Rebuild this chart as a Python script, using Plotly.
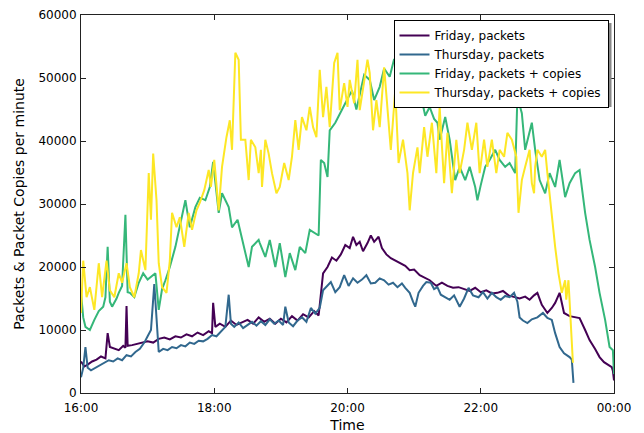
import pandas as pd
import plotly.graph_objects as go

# minutes after 16:00 and values (packets per minute)
fri_pk_min = [0, 3, 6, 10, 14, 18, 22, 24, 26, 30, 34, 38, 40, 41, 42, 46, 50, 55, 60, 65, 70, 75, 80, 85, 90,
              95, 100, 105, 110, 115, 118, 119, 121, 125, 130, 135, 140, 145, 150, 155, 160, 165, 170, 175, 180,
              185, 190, 195, 200, 205, 210, 214, 216, 218, 222, 226, 230, 234, 238, 242, 245, 248, 251, 254, 258,
              261, 264, 268, 271, 275, 279, 283, 287, 292, 296, 300, 305, 310, 314, 320, 325, 330, 335, 340, 345,
              350, 355, 360, 365, 370, 375, 380, 385, 390, 395, 400, 404, 408, 411, 415, 420, 424, 427, 431, 435,
              440, 445, 449, 454, 458, 463, 467, 471, 475, 478, 479, 480]
fri_pk_val = [5000, 4200, 4500, 5000, 5300, 5800, 5500, 9500, 7300, 7000, 6800, 7500, 7200, 13800, 7500, 7600,
              7800, 8000, 8200, 8000, 8600, 8800, 8500, 9000, 8800, 9300, 9000, 9600, 9200, 9800, 9500, 14300,
              10500, 11000, 10500, 11500, 10800, 11200, 11600, 11000, 12000, 11300, 11800, 11000, 11800, 11200,
              12200, 11500, 12500, 12000, 13000, 12300, 15500, 19000, 20000, 21500, 21000, 22000, 23500, 23000,
              24800, 23500, 24000, 22500, 23800, 25000, 24000, 24800, 23000, 22000, 21400, 21000, 20600, 20200,
              19500, 19600, 18700, 18300, 17900, 17000, 17500, 17000, 16700, 16800, 16500, 16200, 16700, 16000,
              16300, 15800, 15900, 16200, 15500, 15200, 15000, 15300, 14800, 15500, 15900, 14000, 12700, 13500,
              14300, 15900, 12700, 12200, 12000, 11900, 10000, 8400, 7000, 5700, 4900, 4500, 4100, 3500, 2000]

thu_pk_min = [0, 2, 4, 6, 9, 13, 17, 21, 25, 29, 33, 37, 41, 45, 49, 53, 57, 60, 63, 66, 68, 70, 74, 78, 82, 86,
              90, 94, 98, 102, 106, 110, 114, 118, 122, 126, 130, 133, 135, 138, 142, 146, 150, 154, 158, 162, 166,
              170, 174, 178, 182, 184, 187, 191, 195, 199, 203, 207, 211, 215, 218, 222, 225, 229, 233, 237, 241,
              245, 249, 253, 257, 261, 265, 269, 273, 277, 281, 285, 289, 292, 296, 299, 301, 304, 308, 311, 315,
              318, 321, 324, 328, 332, 336, 341, 345, 349, 353, 358, 362, 366, 370, 374, 378, 382, 386, 390, 393,
              395, 398, 402, 406, 411, 416, 420, 424, 427, 431, 435, 440, 442, 443.5]
thu_pk_val = [2500, 4000, 7300, 4000, 3600, 4000, 4500, 4800, 5200, 5000, 5500, 5200, 6000, 5800, 6500, 7000,
              8000, 9000, 10000, 17300, 12000, 6500, 7000, 6800, 7300, 7100, 7600, 7400, 8000, 7800, 8300, 8200,
              8600, 9200, 9000, 9800, 10500, 15600, 11000, 10500, 11200, 10300, 10800, 11300, 10700, 11400, 10800,
              11700, 11000, 11500, 10800, 13700, 11200, 10600, 11500, 12000, 11300, 13500, 12600, 13500, 16300,
              17000, 17600, 16000, 16800, 18700, 17000, 18200, 17500, 18000, 18700, 17400, 17500, 18200, 17900,
              17200, 17500, 16800, 17400, 16700, 15900, 14500, 13700, 15900, 17000, 17600, 17500, 16500, 16800,
              15600, 15200, 14800, 15500, 13700, 15000, 16700, 15500, 15200, 16000, 15000, 15900, 15200, 14800,
              15400, 15200, 15900, 14500, 12000, 11500, 11100, 11700, 12000, 12700, 11900, 11600, 9500, 7300, 6300,
              5700, 5300, 1600]

fri_cp_min = [0, 2, 4, 8, 12, 16, 20, 22, 24, 26, 28, 32, 34, 37, 40, 42, 44, 48, 52, 56, 60, 63, 67, 70, 73, 76,
              80, 85, 89, 94, 98, 103, 107, 112, 116, 119, 124, 127, 133, 136, 141, 145, 151, 154, 160, 161, 166,
              170, 175, 179, 184, 188, 193, 197, 202, 206, 211, 214, 216, 219, 222, 224, 229, 233, 238, 241, 244,
              248, 251, 255, 260, 264, 269, 273, 278, 282, 287, 291, 296, 300, 305, 310, 314, 318, 321, 323, 328,
              332, 337, 341, 346, 350, 355, 357, 360, 364, 368, 373, 377, 382, 386, 391, 393, 397, 400, 402, 406,
              409, 413, 418, 422, 427, 431, 436, 440, 445, 449, 454, 458, 463, 467, 472, 476, 479, 480]
fri_cp_val = [15900, 12000, 10500, 10000, 11600, 13000, 13700, 15200, 23200, 14500, 13700, 15000, 15900, 17000,
              28300, 16000, 15900, 15200, 17500, 19000, 18000, 18400, 19000, 13200, 16500, 17900, 20000, 23200,
              26300, 30600, 26300, 29500, 31000, 30600, 32700, 36700, 28600, 31700, 29500, 26300, 27500, 24300,
              20000, 23200, 24300, 23800, 21600, 24300, 20000, 23800, 18400, 22200, 19500, 23200, 22200, 25900,
              25400, 25000, 37000, 36500, 34300, 41700, 42900, 44400, 46000, 47000, 48000, 45000, 47600, 50500,
              49700, 46500, 48600, 51500, 50200, 53000, 49200, 47000, 48000, 46500, 48000, 44000, 45400, 43500,
              42900, 40200, 43800, 40200, 33800, 35900, 33800, 35900, 32700, 30600, 33000, 35900, 37000, 38600,
              37000, 35900, 36500, 34900, 47000, 44400, 38600, 40200, 42900, 38600, 33800, 31700, 34900, 32700,
              37000, 31100, 33300, 34900, 35400, 28600, 24300, 20000, 15900, 11600, 7300, 6800, 3000]

thu_cp_min = [0, 2, 5, 8, 12, 16, 19, 23, 26, 30, 34, 37, 41, 44, 48, 52, 54, 58, 61, 63, 65, 68, 70, 73, 77, 80,
              82, 86, 89, 93, 97, 100, 104, 107, 111, 115, 117, 120, 124, 127, 131, 134, 136, 139, 142, 144, 148,
              151, 153, 157, 160, 162, 163, 166, 169, 172, 176, 179, 183, 187, 190, 193, 196, 199, 203, 206, 209,
              212, 215, 218, 221, 224, 228, 231, 233, 237, 240, 242, 246, 249, 251, 255, 258, 260, 263, 266, 269,
              273, 276, 279, 283, 286, 290, 294, 296, 299, 303, 305, 309, 312, 316, 320, 323, 327, 330, 334, 338,
              341, 345, 348, 352, 356, 359, 363, 366, 370, 374, 377, 381, 384, 388, 392, 394, 397, 400, 404, 406,
              408, 409, 411, 415, 418, 420, 423, 425, 427, 430, 433, 436, 437, 439, 441, 443]
thu_cp_val = [12700, 21000, 15200, 16800, 13200, 20600, 15200, 21000, 16300, 15200, 19000, 17500, 20600, 16800,
              15200, 19000, 22700, 19500, 34900, 27500, 38000, 30600, 20600, 16800, 15900, 21000, 28600, 26300,
              27900, 23200, 28600, 25900, 29000, 30200, 32200, 35400, 32700, 37000, 29000, 35900, 40600, 43300,
              38600, 54000, 52900, 40200, 40200, 33800, 40200, 39000, 34900, 38600, 32700, 40200, 38000, 34900,
              31700, 32700, 36500, 33800, 37500, 43300, 38600, 43800, 41700, 45400, 42200, 40600, 51300, 43800,
              48600, 42200, 52400, 54000, 44900, 49200, 45400, 49700, 46000, 52900, 44900, 49200, 52900, 50800,
              41700, 46500, 42200, 51700, 45400, 38600, 48100, 36500, 40200, 34900, 29000, 34900, 39000, 34900,
              42200, 37500, 42900, 34900, 45400, 33300, 41300, 31700, 40200, 34900, 38600, 42900, 38600, 42900,
              34900, 40200, 35900, 40200, 34900, 38600, 37500, 41300, 40200, 37500, 28600, 33800, 35900, 38600,
              33300, 31700, 35900, 38600, 37500, 38600, 34900, 29500, 26300, 23200, 19000, 15900, 17900, 14800,
              17900, 10500, 4800]

series_names = ["Friday, packets", "Thursday, packets", "Friday, packets + copies", "Thursday, packets + copies"]
series_colors = ["#440154", "#31688e", "#35b779", "#fde725"]

t0 = pd.Timestamp("2016-01-01 16:00")


def to_time(mins):
    return [t0 + pd.Timedelta(minutes=m) for m in mins]


fig = go.Figure()
for name, color, mins, vals in zip(series_names, series_colors,
                                   [fri_pk_min, thu_pk_min, fri_cp_min, thu_cp_min],
                                   [fri_pk_val, thu_pk_val, fri_cp_val, thu_cp_val]):
    fig.add_trace(go.Scatter(x=to_time(mins), y=vals, mode="lines", name=name,
                             line=dict(color=color, width=2)))

axis_common = dict(showline=True, linecolor="#222222", linewidth=1, mirror="ticks", ticks="inside",
                   ticklen=5, tickcolor="#222222", showgrid=False, zeroline=False, automargin=False,
                   tickfont=dict(family="DejaVu Sans", size=12, color="black"))

L, R, T, B = 80.5, 614.5, 15, 393
W, H = 644, 433


def px_x(p):
    return (p - L) / (R - L)


def px_y(p):
    return (B - p) / (B - T)


fig.update_layout(
    width=W, height=H,
    margin=dict(l=L, r=W - R, t=T, b=H - B),
    paper_bgcolor="white", plot_bgcolor="white",
    font=dict(family="DejaVu Sans", size=12, color="black"),
    xaxis=dict(range=[t0, t0 + pd.Timedelta(hours=8)], tickformat="%H:%M", dtick=2 * 3600 * 1000,
               tick0=t0, ticklabelstandoff=4, title=dict(text="Time", standoff=10), **axis_common),
    yaxis=dict(range=[0, 60000], dtick=10000, tickformat="d", ticklabelstandoff=1,
               title=dict(text="Packets & Packet Copies per minute", standoff=10), **axis_common),
    legend=dict(x=px_x(609), y=px_y(20), xanchor="right", yanchor="top", bgcolor="white",
                bordercolor="black", borderwidth=1, font=dict(size=12, family="DejaVu Sans"),
                tracegroupgap=0),
    showlegend=True,
    shapes=[dict(type="rect", xref="paper", yref="paper", layer="above",
                 x0=px_x(398), x1=px_x(612), y0=px_y(107), y1=px_y(23),
                 fillcolor="#888888", line=dict(width=0))],
)

fig.write_html("out.html", config={"displayModeBar": False},
               post_script="document.body.style.margin='0';")
